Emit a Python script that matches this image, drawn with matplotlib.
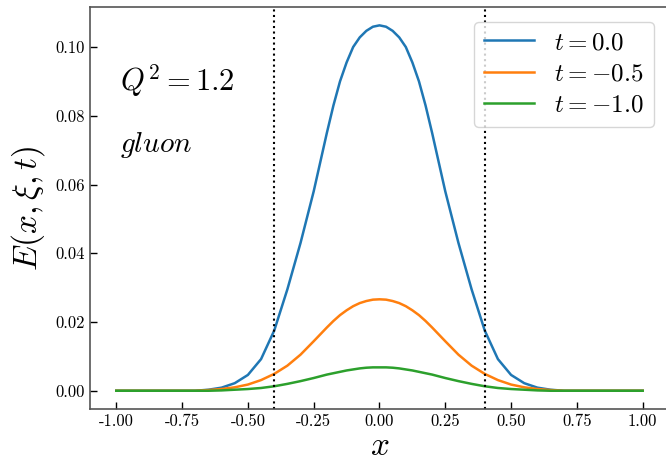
import numpy as np
import matplotlib
matplotlib.use("Agg")
import matplotlib.pyplot as plt

# ---------------------------------------------------------------------------
# valores (passo 0.025 perto do pico, 0.05 fora)
# ---------------------------------------------------------------------------
x = [-1.0, -0.95, -0.9, -0.85, -0.8, -0.75, -0.7, -0.65, -0.6, -0.55,
     -0.5, -0.45, -0.4, -0.35, -0.3,
     -0.25, -0.225, -0.2, -0.175, -0.15, -0.125, -0.1, -0.075, -0.05, -0.025,
     0.0,
     0.025, 0.05, 0.075, 0.1, 0.125, 0.15, 0.175, 0.2, 0.225, 0.25,
     0.3, 0.35, 0.4, 0.45, 0.5,
     0.55, 0.6, 0.65, 0.7, 0.75, 0.8, 0.85, 0.9, 0.95, 1.0]

E_t00 = [0.0, 0.0, 0.0, 0.0, 0.0, 0.0, 0.0, 0.0003, 0.0009, 0.0022,
         0.0046, 0.0092, 0.0175, 0.0295, 0.0430,
         0.0580, 0.0665, 0.0750, 0.0830, 0.0900, 0.0955, 0.1000, 0.1028, 0.1047, 0.1059,
         0.1063,
         0.1059, 0.1047, 0.1028, 0.1000, 0.0955, 0.0900, 0.0830, 0.0750, 0.0665, 0.0580,
         0.0430, 0.0295, 0.0175, 0.0092, 0.0046,
         0.0022, 0.0009, 0.0003, 0.0, 0.0, 0.0, 0.0, 0.0, 0.0, 0.0]

E_t05 = [0.0, 0.0, 0.0, 0.0, 0.0, 0.0, 0.0, 0.0002, 0.0005, 0.0010,
         0.0018, 0.0031, 0.0049, 0.0073, 0.0105,
         0.0144, 0.0164, 0.0184, 0.0203, 0.0220, 0.0234, 0.0246, 0.0255, 0.0261, 0.0265,
         0.0266,
         0.0265, 0.0261, 0.0255, 0.0246, 0.0234, 0.0220, 0.0203, 0.0184, 0.0164, 0.0144,
         0.0105, 0.0073, 0.0049, 0.0031, 0.0018,
         0.0010, 0.0005, 0.0002, 0.0, 0.0, 0.0, 0.0, 0.0, 0.0, 0.0]

E_t10 = [0.0, 0.0, 0.0, 0.0, 0.0, 0.0, 0.0, 0.0, 0.0001, 0.0003,
         0.0005, 0.0008, 0.0013, 0.0020, 0.0028,
         0.0037, 0.0042, 0.0047, 0.0051, 0.0055, 0.0059, 0.0062, 0.0065, 0.0067, 0.0068,
         0.0068,
         0.0068, 0.0067, 0.0065, 0.0062, 0.0059, 0.0055, 0.0051, 0.0047, 0.0042, 0.0037,
         0.0028, 0.0020, 0.0013, 0.0008, 0.0005,
         0.0003, 0.0001, 0.0, 0.0, 0.0, 0.0, 0.0, 0.0, 0.0, 0.0]

curvas = [E_t00, E_t05, E_t10]
rotulos = [r'$t = 0.0$', r'$t = -0.5$', r'$t = -1.0$']
xi = 0.4

# ---------------------------------------------------------------------------
# estilo
# ---------------------------------------------------------------------------
plt.rcParams['font.family'] = 'serif'
plt.rcParams['font.serif'] = ['cmr10']
plt.rcParams['mathtext.fontset'] = 'cm'
plt.rcParams['axes.formatter.use_mathtext'] = True
plt.rcParams['axes.unicode_minus'] = True

fig = plt.figure(figsize=(6.66, 4.69), dpi=100)
ax = fig.add_axes([0.1351, 0.1279, 0.8694, 0.857])

for y, lab in zip(curvas, rotulos):
    ax.plot(x, y, lw=1.8, label=lab)

ax.axvline(-xi, color='k', ls=':', lw=1.5)
ax.axvline(xi, color='k', ls=':', lw=1.5)

ax.set_xticks([-1.0, -0.75, -0.5, -0.25, 0.0, 0.25, 0.5, 0.75, 1.0])
ax.set_yticks([0.0, 0.02, 0.04, 0.06, 0.08, 0.10])
ax.xaxis.set_major_formatter(matplotlib.ticker.FormatStrFormatter('%.2f'))
ax.yaxis.set_major_formatter(matplotlib.ticker.FormatStrFormatter('%.2f'))
ax.tick_params(direction='in', labelsize=12, length=5, width=1)

ax.set_xlabel(r'$x$', fontsize=24, labelpad=2)
ax.set_ylabel(r'$E(x,\xi,t)$', fontsize=24, labelpad=6)

ax.text(0.052, 0.818, r'$Q^2 = 1.2$', transform=ax.transAxes,
        fontsize=22, va='center')
ax.text(0.052, 0.657, r'$gluon$', transform=ax.transAxes,
        fontsize=21, va='center')

ax.legend(loc='upper right', fontsize=18, labelspacing=0.35,
          bbox_to_anchor=(0.995, 0.995), handlelength=2.0)

for s in ax.spines.values():
    s.set_linewidth(1.2)
    s.set_color('#555555')

fig.savefig('out.png', dpi=100)
